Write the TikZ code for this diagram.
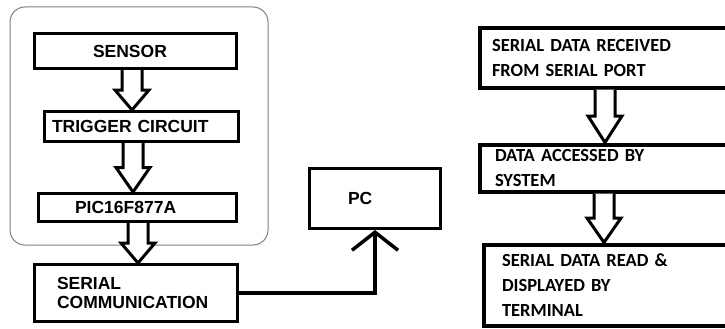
\documentclass[tikz,border=0pt]{standalone}
\usepackage{fontspec}
\usepackage{tikz}
\usetikzlibrary{calc}
\usetikzlibrary{arrows.meta}
\newfontfamily\arialfont{Liberation Sans}
\newfontfamily\calibrifont{Carlito}
\tikzset{
        block/.style={draw, line width=3pt, align=left, inner ysep=1pt,
          font=\arialfont\bfseries\fontsize{17.5}{18.5}\selectfont},
        sblock/.style={draw, line width=4pt, align=left, inner ysep=1pt,
          font=\calibrifont\bfseries\fontsize{18.5}{25}\selectfont},
        hollow/.style={draw, fill=white, line width=3pt, line join=miter},
        link/.style={line width=3.5pt, -{Straight Barb[length=18pt,width=46pt]}},
        panel/.style={draw=gray, line width=1pt, rounded corners=15pt}
}
% #1 = x of the arrow, #2 = from node, #3 = to node
\newcommand{\fatarrow}[3]{%
        \draw[hollow] let \p0=(#1,0), \p1=(#2.south), \p2=(#3.north),
          \p3=($(#2.south)!.5!(#3.north)$) in
        (\x0-10pt,\y1) -- (\x0-10pt,\y3) -- (\x0-17pt,\y3) -- (\x0,\y2) --
        (\x0+17pt,\y3) -- (\x0+10pt,\y3) -- (\x0+10pt,\y1);}
\begin{document}
\begin{tikzpicture}[x=1pt,y=-1pt]
        \useasboundingbox (0,0) rectangle (725,329);
        \clip (0,0) rectangle (725,329);
        %
        \draw [panel] (10,7) rectangle (268,245);
        %
        \node [block, minimum width=202, minimum height=35, inner xsep=58.5, text width=85]
          (sensor) at (135.5,51) {SENSOR};
        \node [block, minimum width=194, minimum height=30, inner xsep=7.5, text width=179]
          (trigger) at (141.5,126.5) {TRIGGER CIRCUIT};
        \node [block, minimum width=198, minimum height=28, inner xsep=36.5, text width=125]
          (pic) at (137.5,207.5) {PIC16F877A};
        \node [block, minimum width=203, minimum height=57, inner xsep=22.5, text width=158]
          (serial) at (136,293) {SERIAL\\COMMUNICATION};
        \node [block, minimum width=131, minimum height=60, inner xsep=38.5, text width=54]
          (pc) at (375,198.5) {PC};
        %
        \node [sblock, minimum width=264, minimum height=59, inner xsep=12.5, text width=239]
          (received) at (611.5,58) {SERIAL DATA RECEIVED\\FROM SERIAL PORT};
        \node [sblock, minimum width=264, minimum height=47, inner xsep=15.5, text width=233]
          (accessed) at (611.5,168) {DATA ACCESSED BY\\SYSTEM};
        \node [sblock, minimum width=260, minimum height=81, inner xsep=18.5, text width=223]
          (displayed) at (613.5,285) {SERIAL DATA READ \&\\DISPLAYED BY\\TERMINAL};
        %
        \fatarrow{132}{sensor}{trigger}
        \fatarrow{133}{trigger}{pic}
        \fatarrow{138}{pic}{serial}
        \fatarrow{605}{received}{accessed}
        \fatarrow{604}{accessed}{displayed}
        %
        \draw [link] (serial.east) -| (pc.south);
\end{tikzpicture}
\end{document}
